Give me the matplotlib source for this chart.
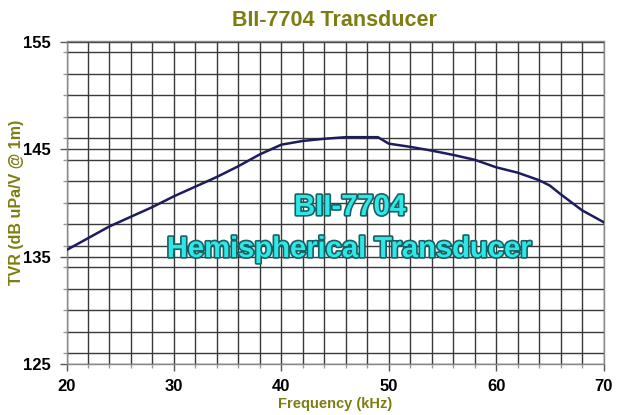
import matplotlib
matplotlib.use("Agg")
import matplotlib.pyplot as plt
import matplotlib.patheffects as pe
from matplotlib.ticker import MultipleLocator, FixedLocator

plt.rcParams['font.family'] = ['Liberation Sans', 'DejaVu Sans']

freq_khz = [20, 22, 24, 26, 28, 30, 32, 34, 36, 38, 40, 42, 44, 46, 48, 49,
            50, 52, 54, 56, 58, 60, 62, 64, 65, 66, 68, 70]
tvr_db = [135.6, 136.7, 137.8, 138.7, 139.6, 140.6, 141.5, 142.4, 143.4, 144.5,
          145.4, 145.75, 145.95, 146.1, 146.1, 146.1,
          145.5, 145.2, 144.85, 144.45, 144.0, 143.3, 142.8, 142.1, 141.6, 140.8,
          139.3, 138.2]
y_ticks = [125, 135, 145, 155]
x_ticks = [20, 30, 40, 50, 60, 70]

title = "BII-7704 Transducer"
xlabel = "Frequency (kHz)"
ylabel = "TVR (dB uPa/V @ 1m)"
annot1 = "BII-7704"
annot2 = "Hemispherical Transducer"

olive = "#7d7d12"
fig = plt.figure(figsize=(6.23, 4.15), dpi=100)
ax = fig.add_axes([66.5/623, 1 - 364/415, (603.5-66.5)/623, (364-41.5)/415])

ax.set_xlim(20, 70)
ax.set_ylim(125, 155)
ax.xaxis.set_major_locator(FixedLocator(x_ticks))
ax.xaxis.set_minor_locator(MultipleLocator(2))
ax.yaxis.set_major_locator(FixedLocator(y_ticks))
ax.yaxis.set_minor_locator(MultipleLocator(2))
ax.grid(True, which='both', color='#3a3a3a', linewidth=1.0)
ax.set_axisbelow(True)
for s in ax.spines.values():
    s.set_color('#888888')
    s.set_linewidth(1.0)
ax.tick_params(which='major', length=5, width=1, color='#555555', direction='out', pad=6)
ax.tick_params(which='minor', length=3, width=1, color='#999999', direction='out')
ax.tick_params(labelsize=12)
for lab in ax.get_xticklabels() + ax.get_yticklabels():
    lab.set_fontweight('bold')

ax.plot(freq_khz, tvr_db, color='#1c1c5e', linewidth=1.8, zorder=3)

fig.text(334/623, 1 - 20/415, title, ha='center', va='center', fontsize=15.5,
         fontweight='bold', color=olive)
fig.text(335/623, 1 - 404/415, xlabel, ha='center', va='center', fontsize=10.5,
         fontweight='bold', color=olive)
fig.text(17/623, 1 - 202/415, ylabel, ha='center', va='center', fontsize=11.5,
         fontweight='bold', color=olive, rotation=90)

effects = [pe.withStroke(linewidth=2.4, foreground='#1a5f62')]
fig.text(350/623, 1 - 207/415, annot1, ha='center', va='center', fontsize=21,
         fontweight='bold', color='#2ee8e8', path_effects=effects, zorder=5)
fig.text(349/623, 1 - 249/415, annot2, ha='center', va='center', fontsize=21,
         fontweight='bold', color='#2ee8e8', path_effects=effects, zorder=5)

fig.savefig("out.png", dpi=100)
